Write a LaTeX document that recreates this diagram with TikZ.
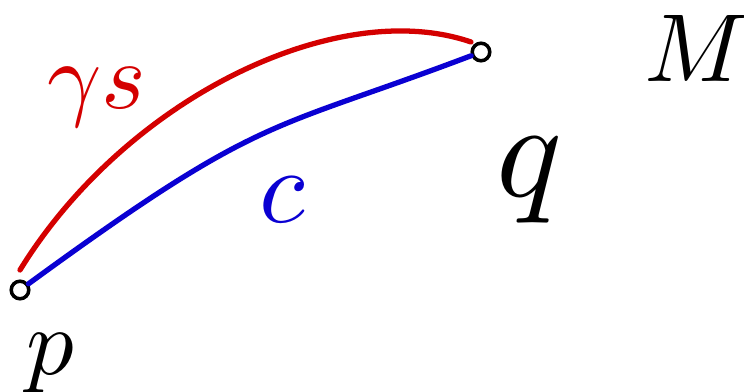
\documentclass[tikz,border=0pt]{standalone}
\usepackage{amsmath}
\usepackage{xcolor}
\usepackage{tikz}
\usetikzlibrary{arrows.meta,positioning}
\definecolor{curvered}{HTML}{D40000}
\definecolor{curveblue}{HTML}{0A00D2}

\begin{document}
\begin{tikzpicture}[x=0.02cm,y=0.02cm,>=Latex,
    endpt/.style={draw,circle,line width=2pt,inner sep=0pt,minimum size=10pt},
    curve/.style={line width=3pt,line cap=round}]
  \useasboundingbox (0,0) rectangle (744,392);
  \node[endpt] (p) at (20,102) {};
  \node[endpt] (q) at (481,340) {};
  \coordinate (redstart) at (20,122);
  \coordinate (redend) at (471,350);
  \draw[curve,curvered] (redstart) .. controls (126,294) and (337,396) .. (redend);
  \draw[curve,curveblue] (p) .. controls (264,280) and (267,259) .. (q);
  \node[curvered,scale=5.4] (gs) at (97,295) {$\gamma s$};
  \node[curveblue,scale=6] (c) at (282,192) {$c$};
  \node[scale=5.4] (plab) at (50,29) {$p$};
  \node[scale=7.8] (qlab) at (530,212) {$q$};
  \node[scale=5.5] (mlab) at (697,344) {$M$};
\end{tikzpicture}
\end{document}
